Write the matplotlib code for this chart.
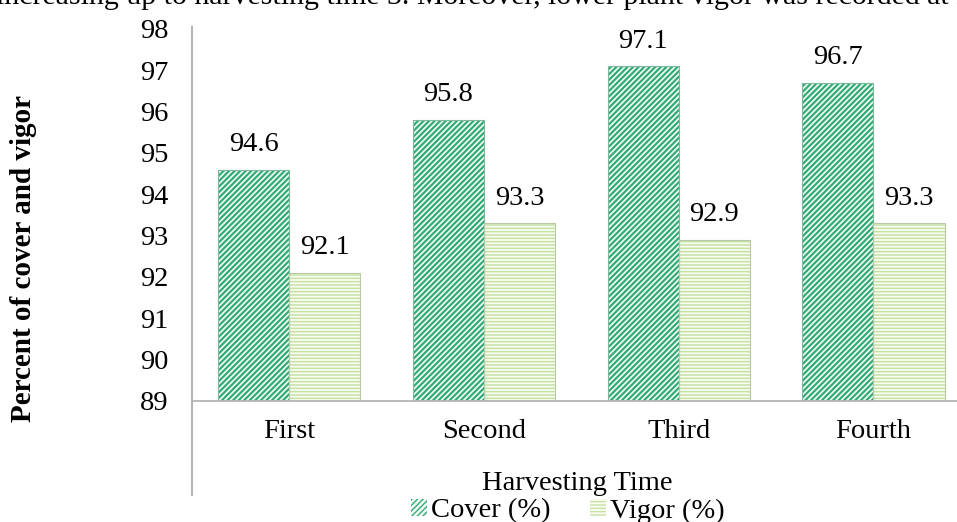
import numpy as np
import matplotlib
matplotlib.use("Agg")
from matplotlib import pyplot as plt
from matplotlib.lines import Line2D

# data
times = ["First", "Second", "Third", "Fourth"]
cover = [94.6, 95.8, 97.1, 96.7]
vigor = [92.1, 93.3, 92.9, 93.3]
yticks = list(range(89, 99))

plt.rcParams['font.family'] = ['Liberation Serif', 'DejaVu Serif']
FS = 20.5
W, H = 957, 522

fig = plt.figure(figsize=(W / 100, H / 100), dpi=100)
# plot area in pixels (left, bottom, width, height) - runs off the right edge like the source
ax = fig.add_axes([192 / W, (H - 401) / H, 4 * 194.7 / W, (401 - 29) / H])

x = np.arange(len(times))
bw = 0.365

green = '#33ab77'
lgreen = '#c4e2a6'

with plt.rc_context({'hatch.linewidth': 1.6}):
    b1 = ax.bar(x - bw / 2, np.array(cover) - 89, bw, bottom=89, color='#f4fbf7',
                edgecolor=green, hatch='//////', linewidth=0, label='Cover (%)')
with plt.rc_context({'hatch.linewidth': 1.1}):
    b2 = ax.bar(x + bw / 2, np.array(vigor) - 89, bw, bottom=89, color='#fbfdf0',
                edgecolor=lgreen, hatch='-----', linewidth=0, label='Vigor (%)')
# thin outlines round the bars
ax.bar(x - bw / 2, np.array(cover) - 89, bw, bottom=89, fill=False,
       edgecolor='#7fb79a', linewidth=0.8)
ax.bar(x + bw / 2, np.array(vigor) - 89, bw, bottom=89, fill=False,
       edgecolor='#b9c9a8', linewidth=0.8)

ax.bar_label(b1, labels=[f"{v:.1f}" for v in cover], padding=9, fontsize=FS)
ax.bar_label(b2, labels=[f"{v:.1f}" for v in vigor], padding=9, fontsize=FS)

ax.set_xlim(-0.5, len(times) - 0.5)
ax.set_ylim(89, 98)
ax.set_yticks(yticks)
ax.set_xticks(x)
ax.set_xticklabels(times)
ax.tick_params(axis='both', length=0, labelsize=FS)
ax.tick_params(axis='y', pad=17)
ax.tick_params(axis='x', pad=13)

for s in ['top', 'right', 'left']:
    ax.spines[s].set_visible(False)
ax.spines['bottom'].set_color('#b5b5b5')
ax.spines['bottom'].set_linewidth(1.3)

# the vertical axis line runs on below the category axis
fig.add_artist(Line2D([192 / W, 192 / W], [(H - 27) / H, (H - 495) / H],
                      transform=fig.transFigure, color='#b5b5b5', linewidth=1.5))

fig.text(24 / W, (H - 258) / H, "Percent of cover and vigor", rotation=90,
         ha='center', va='center', fontsize=21, fontweight='bold')
fig.text(577 / W, (H - 484) / H, "Harvesting Time", ha='center', va='center', fontsize=FS)

# line of the page text above the chart, cut off at the top
fig.text(-4 / W, (H - 4) / H,
         "increasing up to harvesting time 3. Moreover, lower plant vigor was recorded at harvesting",
         ha='left', va='baseline', fontsize=21.5)

fig.legend(handles=[b1, b2], loc='center', bbox_to_anchor=(568 / W, (H - 511) / H),
           ncol=2, frameon=False, fontsize=FS, handlelength=0.55, handleheight=0.55,
           handletextpad=0.15, columnspacing=1.4, borderpad=0)

fig.savefig("out.png", dpi=100)
